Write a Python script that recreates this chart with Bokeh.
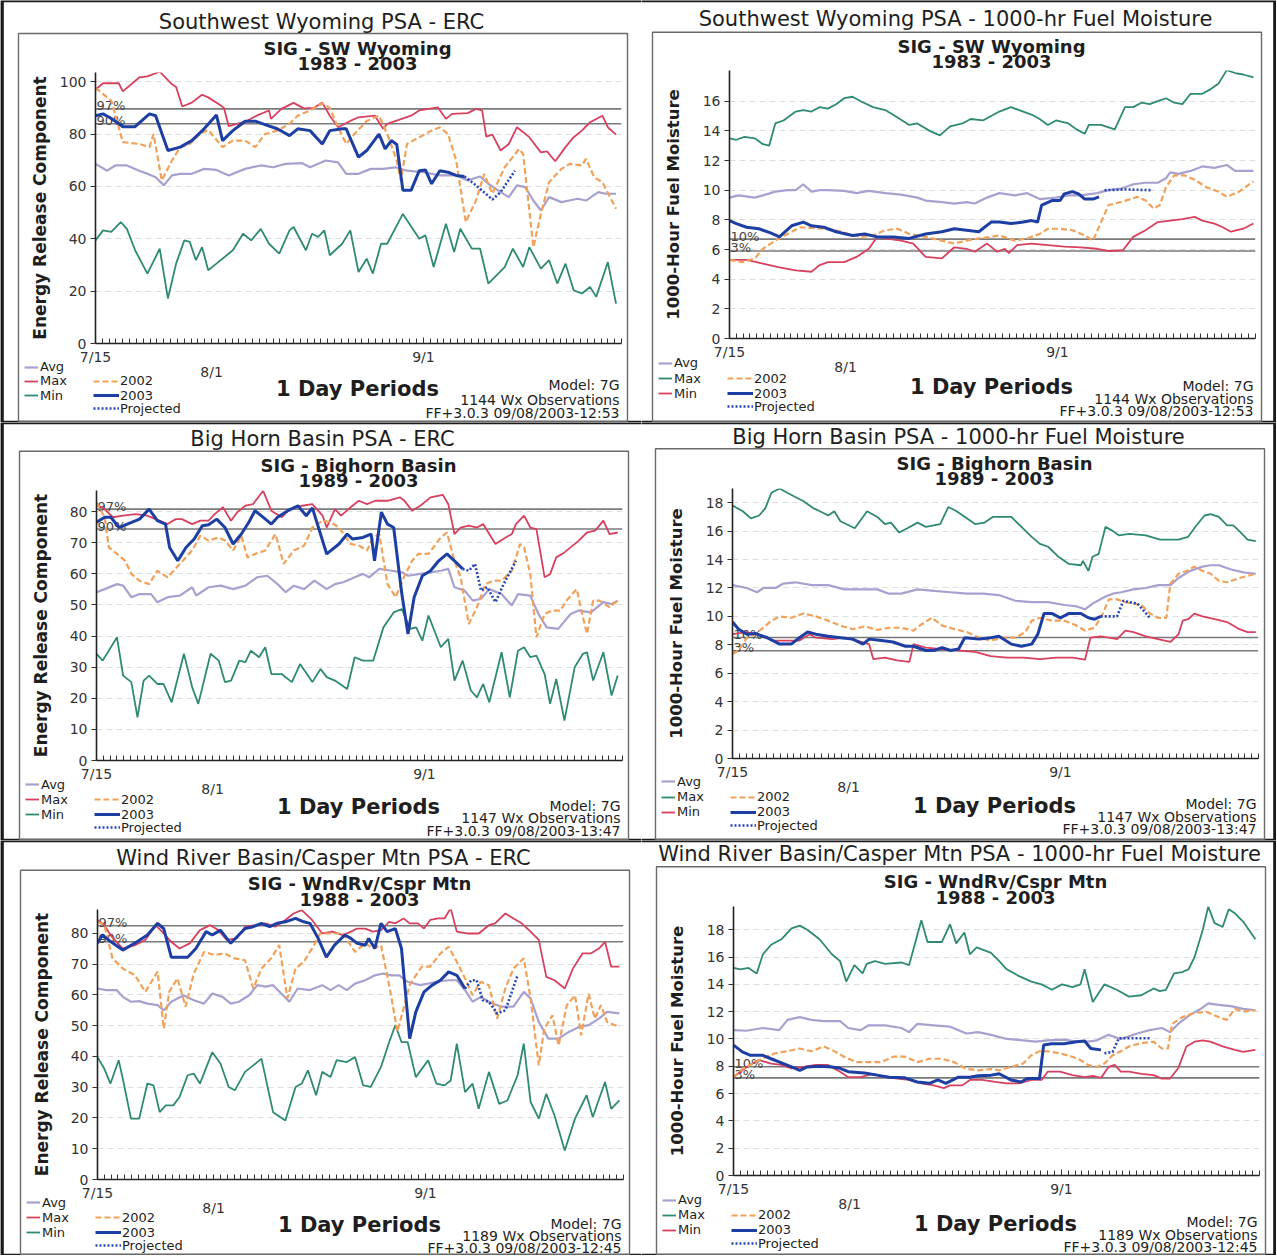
import math
from bokeh.plotting import figure
from bokeh.models import (Range1d, FixedTicker, LinearAxis, Label, BoxAnnotation,
                          Span, Legend, LegendItem, GridBox)
from bokeh.embed import file_html
from bokeh.resources import INLINE

# ---------------------------------------------------------------- data
# x = days after 7/15 ; y = value
X_END = 77
DATE_TICKS = [0, 48]
DATE_LABELS = ["7/15", "9/1"]
MID_TICKS = [17]
MID_LABELS = ["8/1"]
DAY_TICKS = list(range(0, 78))

# ---- Southwest Wyoming ERC
SWW_ERC_AVG = [(0,68.6),(1.7,66),(2.9,68),(4.6,68),(6.4,66),(7.6,64.8),(8.8,63.5),(10,60.4),(11.2,64.2),(12.4,64.8),(14.1,64.8),(15.9,66.7),(17.7,66.3),(19.5,64.2),(21.9,66.7),(24.2,68),(26,67.3),(27.8,68.6),(30.2,68.9),(31.4,67.3),(33.7,69.9),(35.5,69.2),(36.7,64.8),(38.5,64.8),(40.3,66.7),(42.1,66.7),(43.9,67.3),(45.6,66),(48,65.4),(50.4,64.2),(52.8,64.2),(54.5,62.3),(56.3,63.8),(57.5,61),(59.3,57.8),(60.5,55.9),(61.7,60.4),(62.9,59.7),(64.1,54.6),(65.2,50.8),(66.4,55.9),(68.2,54),(70.6,55.3),(71.8,54.6),(73.6,57.8),(74.7,57.2),(76.2,57.2)]
SWW_ERC_MAX = [(0,97),(1.1,99.4),(3.4,99.4),(4.0,96.3),(6.4,101.6),(7.6,102),(9.4,103.8),(11.2,99),(11.8,98),(12.7,90.5),(14.1,92),(15.6,95),(16.5,94),(18.3,91),(18.8,90),(19.5,83),(21.9,84.7),(23.6,87),(25.4,89),(25.7,85.8),(27.2,89.6),(29.0,91.9),(30.5,89.8),(32.0,90),(33.2,92),(34.3,87),(35.5,82.6),(37.3,85),(38.5,86.4),(40.9,87),(42.1,82),(42.7,83.9),(44.4,85.4),(46.2,87),(47.4,89),(50.1,90.2),(51.3,85.8),(52.2,87.7),(54.5,88),(55.7,89.6),(56.6,89),(57.2,79),(58.1,79.8),(59.3,73.7),(60.5,76.2),(61.7,82.6),(63.5,78.8),(65.2,73),(66.1,73.4),(67.3,69.6),(68.8,75),(70.0,78.8),(71.2,81.3),(72.4,84.5),(74.2,87),(75.0,82.6),(76.2,79.8)]
SWW_ERC_MIN = [(0,39.4),(1.1,43.2),(2.3,42.6),(3.7,46.4),(4.6,43.8),(5.8,35.6),(7.6,26.7),(9.4,36.2),(10.6,17.2),(11.8,30.5),(13,39.4),(13.8,38.8),(14.7,31.8),(15.6,36.8),(16.5,28),(17.7,30.5),(20.1,35.6),(21.6,41.9),(22.8,39.4),(24.2,43.8),(25.4,38.1),(26.9,34.3),(28.4,43.2),(29,44.5),(30.8,35.6),(31.7,41.9),(32.6,40.7),(33.5,43.2),(34.3,33.7),(36.1,38.1),(37.3,43.2),(38.5,27.3),(39.7,32.4),(40.6,26.7),(41.8,38.1),(42.7,38.1),(45,49.5),(47.4,40),(48.3,41.3),(49.5,29.2),(51.3,45.7),(52.5,34.9),(53.4,43.8),(55.1,36.2),(56.3,36.2),(57.5,22.9),(59.9,29.2),(61.1,36.2),(62.6,29.2),(63.5,36.8),(65.2,28.6),(66.4,31.8),(67.6,22.9),(68.8,30.5),(70,20.3),(71.2,19.1),(72.4,21.6),(73.3,17.8),(75,31.1),(76.2,15.2)]
SWW_ERC_2002 = [(0,97.6),(1.1,95.3),(2.3,92.8),(3.4,82.6),(4,76.9),(6.4,76.2),(7.9,75),(8.5,80),(9.7,62.3),(11.2,69.9),(12.4,75),(13.8,76.2),(15.3,80),(16.5,81.6),(18.6,75),(20.1,77.5),(21.9,77.5),(23.4,75),(24.8,80),(26.6,81.3),(28.4,83.9),(29.6,87),(31.4,89),(33.2,91.7),(34.3,90),(35.5,82.6),(36.7,76.2),(37.9,80),(39.7,85),(41.5,87),(42.7,80),(44.1,69.9),(44.7,62.3),(45.6,76.2),(47.4,78.8),(49.2,81.3),(50.4,82.6),(51.6,80),(52.8,69.9),(54.2,46.4),(55.7,54.6),(56.9,64.8),(58.1,57.2),(59.9,67.3),(62,74.3),(62.6,72.4),(64.1,36.8),(65.2,49.5),(66.4,61.6),(68.2,66.7),(69.4,68.6),(71.2,68),(71.8,70.5),(73,63.5),(74.2,61.6),(76.2,51.5)]
SWW_ERC_2003 = [(0,87),(1.1,87.7),(2,86.4),(3.4,84),(4,82.8),(5.8,82.8),(7.9,87.7),(8.8,87),(10.6,73.7),(12.4,75),(14.1,77.5),(15.9,82),(17.7,87.3),(18.6,77.5),(20.1,81.3),(21.9,84.9),(23.4,84.9),(24.8,83.6),(26.6,82),(28.4,79.4),(29.6,82),(31.4,81.3),(33.2,76.2),(34.3,81.3),(36.1,82),(36.7,82),(38.5,71.2),(39.7,73.7),(41.5,80),(42.4,74.3),(43.3,77.5),(44.1,76),(45,58.5),(46.2,58.5),(47.4,66),(48.3,66.3),(49.2,61),(50.4,66),(51.6,65.4),(52.8,64.2),(54,63.8)]
SWW_ERC_PROJ = [(54,63.8),(55.7,60.4),(58.1,55),(59.3,57.8),(61.4,66)]
SWW_ERC_PCT = [89.6, 83.9]

# ---- Southwest Wyoming 1000-hr fuel moisture
SWW_FM_AVG = [(0,9.5),(1.3,9.65),(3.7,9.5),(4.9,9.65),(6.7,9.9),(8.5,10),(9.7,10),(10.8,10.4),(12.0,9.9),(13.2,10),(14.4,10),(16.8,9.95),(18.6,9.8),(20.4,9.95),(22.8,9.8),(25.1,9.7),(27.5,9.5),(28.7,9.3),(31.1,9.2),(32.9,9.1),(34.7,9.2),(35.9,9.1),(37.7,9.5),(39.5,9.8),(41.8,9.65),(43.6,9.8),(45.4,9.4),(47.8,9.5),(49.6,9.65),(51.4,9.65),(53.8,9.8),(55.5,10),(57.3,10.1),(59.1,10.4),(60.9,10.5),(62.7,10.5),(63.9,10.8),(64.5,11.2),(65.7,11.1),(67.5,11.3),(69.2,11.6),(71.0,11.5),(72.8,11.7),(74.0,11.3),(75.2,11.3),(76.7,11.3)]
SWW_FM_MAX = [(0,13.5),(1.0,13.4),(2.2,13.6),(3.7,13.5),(4.9,13.1),(5.8,13),(6.7,14.5),(7.9,14.7),(9.7,15.3),(10.8,15.4),(12.0,15.3),(13.2,15.6),(14.4,15.5),(15.6,15.8),(16.8,16.2),(18.0,16.3),(19.2,16),(21.0,15.6),(22.8,15.4),(24.6,14.9),(26.3,14.4),(27.5,14.5),(29.3,14),(30.8,13.7),(32.3,14.3),(34.1,14.5),(35.3,14.8),(37.1,14.7),(38.3,15),(39.5,15.3),(41.2,15.6),(43.0,15.3),(44.2,15.1),(45.4,14.8),(46.6,14.4),(47.8,14.7),(49.6,14.5),(50.8,14.1),(52.0,13.8),(52.6,14.4),(54.4,14.4),(56.4,14.1),(57.9,15.6),(59.1,15.6),(60.3,15.9),(61.5,15.8),(62.7,16),(63.9,16.2),(65.1,15.9),(66.3,15.8),(67.5,16.5),(69.2,16.5),(70.4,16.8),(71.6,17.2),(72.8,18.1),(74.0,17.9),(75.2,17.8),(76.7,17.6)]
SWW_FM_MIN = [(0,5.3),(2.5,5.3),(4.9,5.05),(7.3,4.8),(9.7,4.6),(12.0,4.5),(13.2,4.95),(14.4,5.15),(16.8,5.15),(18.6,5.5),(20.4,6.05),(21.6,6.85),(22.8,6.75),(25.1,6.6),(26.9,6.4),(28.7,5.5),(31.1,5.4),(32.9,6.15),(34.7,6.05),(35.9,5.85),(37.7,6.4),(39.2,5.85),(40.3,6.05),(40.9,5.75),(42.1,6.3),(44.2,6.4),(46.6,6.3),(49.0,6.2),(51.4,6.15),(53.8,6.05),(55.5,5.9),(57.6,5.95),(59.1,6.85),(60.9,7.3),(62.7,7.85),(64.5,7.95),(66.3,8.05),(68.1,8.2),(69.2,7.95),(71.0,7.75),(72.2,7.5),(73.4,7.2),(75.2,7.4),(76.7,7.75)]
SWW_FM_2002 = [(0,5.3),(1.9,5.15),(3.7,5.4),(4.9,6.05),(6.7,6.6),(8.5,7.05),(10.3,7.5),(12.0,7.45),(13.8,7.4),(15.6,7.3),(17.4,7.05),(19.2,6.85),(21.0,6.95),(22.8,7.3),(24.6,7.4),(26.3,7.05),(28.7,6.85),(31.1,6.6),(32.9,6.4),(34.7,6.6),(36.5,6.75),(38.3,6.85),(39.5,6.95),(41.8,6.6),(43.6,6.75),(45.4,7.05),(46.6,7.4),(48.4,7.4),(50.2,7.3),(52.0,6.95),(53.2,6.6),(54.4,7.85),(55.5,9),(57.3,9.2),(59.7,9.55),(60.9,9.3),(62.1,8.75),(63.0,9),(63.9,10.2),(65.1,11),(66.6,11),(68.1,10.7),(69.8,10.2),(71.6,9.9),(72.8,9.55),(74.6,9.9),(76.7,10.6)]
SWW_FM_2003 = [(0,7.95),(1.0,7.75),(2.5,7.5),(4.3,7.4),(6.1,7.1),(7.3,6.85),(9.1,7.6),(10.8,7.85),(12.0,7.6),(13.8,7.5),(15.6,7.2),(18.0,6.95),(19.8,7.05),(21.6,6.85),(24.0,6.85),(26.3,6.75),(28.7,7.05),(31.1,7.2),(32.9,7.4),(34.7,7.3),(36.5,7.2),(38.3,7.85),(39.5,7.85),(41.2,7.75),(43.0,7.85),(44.2,7.95),(45.1,7.85),(45.7,9),(47.2,9.3),(48.4,9.3),(49.0,9.75),(50.2,9.9),(51.1,9.75),(52.0,9.4),(53.2,9.4),(54.1,9.55)]
SWW_FM_PROJ = [(54.9,10.0),(58.0,10.05),(61.8,10.0)]
SWW_FM_PCT = [6.7, 5.9]

# ---- Big Horn Basin ERC
BHB_ERC_AVG = [(0,54.1),(1.2,55.1),(3.0,56.7),(3.9,56.2),(5.1,52.5),(6.3,53.5),(8.0,53.5),(8.9,50.9),(10.4,52.5),(12.2,53),(14.0,55.7),(14.6,53),(16.4,55.7),(18.2,56.2),(20.0,55.1),(21.8,56.2),(23.5,58.9),(25.0,59.4),(26.5,56.7),(27.7,54.1),(28.9,56.2),(30.4,55.1),(31.9,57.8),(33.7,55.1),(34.9,56.7),(36.1,57.3),(37.8,58.9),(39.0,60),(39.9,58.9),(41.4,61.6),(43.2,61),(44.7,60.5),(45.6,59.4),(47.4,60),(48.9,60.5),(50.4,61),(51.5,61.6),(52.4,55.7),(53.9,54.6),(55.1,51.4),(56.3,52),(57.5,55.1),(59.3,53.5),(60.8,49.8),(61.7,53.5),(63.5,53),(64.7,47.1),(65.9,42.8),(67.6,42.3),(69.4,47.1),(70.6,48.2),(72.4,47.6),(74.2,50.9),(75.4,50.3),(76.3,51.4)]
BHB_ERC_MAX = [(0,81.9),(0.9,81.4),(2.4,78.2),(3.9,78.7),(5.7,79.2),(7.4,78.7),(9.2,77.1),(10.4,76),(11.6,77.6),(12.5,77.6),(14.0,76),(15.2,77.1),(16.4,77.1),(17.3,79.2),(18.5,81.4),(19.7,77.1),(20.6,79.8),(21.8,81.9),(22.9,82.4),(24.4,86.7),(25.6,80.3),(27.1,78.2),(28.3,80.8),(30.1,81.9),(31.6,82.4),(33.1,78.7),(33.7,74.9),(34.9,80.8),(35.8,78.7),(37.2,81.4),(38.4,83.5),(39.6,82.4),(40.8,83.5),(42.6,83.5),(44.4,84.6),(45.0,83.7),(46.2,80.3),(47.4,81.9),(48.9,84.6),(50.7,85.4),(51.5,82.4),(52.4,72.8),(53.3,74.9),(54.5,75.5),(55.7,74.9),(56.6,76),(57.5,72.8),(58.4,69.6),(59.9,71.7),(60.8,72.8),(61.4,76),(62.6,78.7),(63.5,74.9),(64.4,74.4),(65.6,58.9),(66.4,59.9),(67.3,65.3),(68.5,66.9),(69.4,68.5),(70.6,70.7),(71.8,73.3),(73.0,73.9),(74.2,77.1),(75.1,72.8),(76.3,73.3)]
BHB_ERC_MIN = [(0,34.3),(0.9,32.1),(3.0,39.6),(3.9,27.3),(5.1,25.2),(6.0,13.9),(6.9,25.7),(7.7,27.3),(8.9,24.6),(9.8,24.6),(11.0,18.7),(12.8,34.3),(14.0,23.6),(14.9,18.2),(16.7,34.3),(17.9,32.1),(18.8,25.2),(19.7,25.7),(20.9,32.1),(21.8,31.6),(22.6,35.3),(23.8,33.2),(24.7,36.4),(25.6,27.8),(27.1,27.8),(28.6,25.2),(29.8,31),(31.6,25.2),(32.8,29.4),(33.7,26.8),(34.9,25.7),(36.7,23),(37.8,33.2),(39.0,32.1),(40.5,32.1),(42.0,42.8),(43.5,47.6),(44.7,48.7),(45.9,42.3),(46.8,42.8),(47.7,38.5),(48.6,46.6),(50.4,36.4),(51.5,39.1),(52.4,25.7),(53.6,32.1),(54.8,22.5),(55.7,20.3),(56.6,24.6),(57.5,18.7),(59.3,34.8),(60.5,20.3),(61.7,35.3),(62.6,36.4),(63.5,33.2),(64.4,33.7),(65.6,27.8),(66.4,18.2),(67.3,26.2),(68.5,12.8),(70.0,30),(71.2,34.3),(71.8,34.8),(72.7,25.7),(74.2,34.8),(75.4,20.9),(76.3,27.3)]
BHB_ERC_2002 = [(0,83),(1.2,78.2),(1.8,68.5),(3.0,66.4),(4.2,64.2),(5.1,60),(6.3,57.8),(7.7,56.7),(8.9,61),(10.4,58.9),(12.2,63.2),(14.0,67.5),(15.2,72.3),(16.4,70.7),(17.9,71.7),(18.8,70.7),(20.0,67.5),(21.2,72.3),(22.1,65.3),(23.2,66.4),(24.7,67.5),(26.2,72.8),(27.4,63.2),(28.9,67.5),(30.4,69.1),(31.6,74.9),(33.1,77.1),(34.3,76.6),(35.5,74.9),(37.2,69.6),(38.4,69.1),(39.6,67.5),(40.5,71.7),(41.4,72.8),(42.6,56.7),(43.8,52.5),(45.0,58.9),(46.2,64.2),(47.1,66.4),(48.6,66.4),(50.4,71.7),(51.3,73.3),(52.4,64.2),(53.3,58.9),(54.5,43.9),(55.7,49.3),(56.9,56.7),(58.1,57.8),(59.3,57.8),(60.8,61),(62.0,69.6),(62.6,68.5),(63.5,60),(64.4,39.6),(65.6,47.1),(66.7,48.2),(67.9,48.2),(68.8,51.4),(70.3,55.1),(71.2,46.1),(71.8,40.7),(72.7,51.4),(73.6,51.4),(75.1,49.3),(76.3,51.4)]
BHB_ERC_2003 = [(0,76.6),(1.2,78.2),(2.1,78.2),(3.3,74.9),(4.5,76),(6.3,77.6),(7.7,80.8),(8.9,77.1),(10.1,76),(10.7,68.5),(11.9,64.2),(13.1,68.5),(14.3,71.2),(15.5,75.5),(16.4,75.8),(17.6,77.6),(18.8,74.9),(20.0,69.6),(21.2,72.8),(22.3,76.6),(23.2,80.3),(24.1,78.7),(25.6,76),(26.5,78.2),(28.0,80.3),(29.5,81.9),(30.7,78.7),(31.6,81.2),(33.7,66.4),(35.5,69.6),(36.7,72.8),(37.5,71.2),(39.0,71.7),(40.2,72.8),(40.7,64.2),(41.7,79.8),(42.6,76),(43.5,74.9),(44.7,53.5),(45.6,40.7),(46.5,52.5),(47.7,59.4),(48.9,61),(50.1,64.2),(51.3,66.4),(52.4,64.2),(53.6,61.6)]
BHB_ERC_PROJ = [(53.6,61.6),(54.5,61),(55.4,63.2),(56.3,54.6),(57.2,55.7),(58.4,50.9),(59.6,56.7),(61.4,64.2)]
BHB_ERC_PCT = [80.8, 74.4]

# ---- Big Horn Basin 1000-hr fuel moisture
BHB_FM_AVG = [(0,12.2),(2.1,12.0),(3.6,11.7),(4.5,12),(6.3,12),(7.4,12.3),(9.2,12.4),(11.6,12.2),(14.0,12.2),(16.4,11.9),(18.8,11.9),(21.2,11.9),(22.9,11.6),(24.7,11.6),(27.1,11.9),(29.5,11.8),(31.9,11.7),(34.3,11.6),(36.7,11.6),(39.0,11.5),(41.4,11.1),(43.8,11),(46.2,11),(48.6,10.8),(50.4,10.7),(51.6,10.5),(52.7,10.9),(54.6,11.4),(55.7,11.6),(56.9,11.7),(58.7,11.9),(60.5,12),(62.3,12.2),(64.1,12.2),(65.3,12.7),(67.0,13.2),(68.8,13.5),(70.0,13.6),(71.2,13.6),(73.0,13.3),(74.8,13.1),(76.6,13)]
BHB_FM_MAX = [(0,17.8),(1.5,17.4),(2.7,16.9),(3.9,17.1),(4.8,17.6),(5.7,18.7),(6.9,19),(8.0,18.7),(9.2,18.4),(10.4,18.1),(11.9,17.6),(12.8,17.4),(14.0,17.1),(14.9,17.4),(15.8,16.7),(17.9,16.2),(19.7,17.4),(21.2,17),(22.3,16.5),(23.2,16.6),(24.4,15.9),(25.6,16.2),(27.1,16.6),(28.3,16.3),(30.4,16.5),(31.6,17.7),(32.8,17.4),(34.3,16.9),(35.5,16.5),(36.9,16.6),(38.1,17),(40.8,17),(42.3,16.3),(43.8,15.6),(45.0,15.1),(46.2,14.9),(47.7,14.2),(49.2,13.7),(51.0,13.6),(51.3,13.9),(52.1,13.2),(52.7,14.2),(53.6,14.4),(54.6,16.3),(55.7,16),(56.6,15.7),(58.1,15.8),(60.5,15.7),(62.6,15.4),(65.3,15.4),(66.7,15.6),(67.9,16.4),(69.1,17.1),(70.0,17.2),(71.2,17),(72.4,16.4),(73.3,16.4),(74.2,16),(75.4,15.4),(76.6,15.3)]
BHB_FM_MIN = [(0,8.75),(2.1,8.9),(4.5,8.6),(5.7,8.3),(8.0,8.3),(9.8,8.3),(11.3,8.75),(12.2,8.5),(14.6,8.4),(16.4,8.5),(18.2,8.3),(20.0,8.05),(20.6,7),(22.3,7.1),(24.1,6.9),(25.9,6.8),(26.5,8.05),(28.3,7.8),(30.7,7.7),(33.1,7.6),(35.5,7.5),(37.8,7.2),(40.2,7.1),(42.6,7.1),(45.0,7),(47.4,7.1),(49.8,7.1),(51.6,6.95),(52.4,8.5),(53.9,8.6),(55.1,8.5),(56.3,8.4),(57.5,9),(58.7,8.9),(60.5,8.6),(62.3,8.4),(64.1,8.2),(65.3,8.75),(65.9,9.7),(66.7,9.8),(67.6,10.2),(68.8,10),(70.6,9.8),(72.4,9.6),(74.2,9.1),(75.4,8.9),(76.6,8.9)]
BHB_FM_2002 = [(0,7.35),(0.9,7.6),(2.1,8.5),(3.3,8.75),(4.5,9.2),(5.7,9.7),(6.9,10),(8.6,9.9),(10.4,10.2),(12.2,10),(14.0,9.7),(15.8,9.35),(17.6,9.1),(19.4,9.3),(21.2,9.05),(22.9,9.2),(24.7,9.2),(26.5,9),(27.7,9.45),(29.2,9.9),(30.7,9.35),(32.5,9.1),(34.3,8.9),(36.1,8.5),(37.8,8.3),(39.6,8.5),(41.4,8.5),(42.9,8.9),(43.8,9.7),(45.0,9.9),(46.8,9.7),(48.6,9.7),(50.4,9.35),(51.6,9),(53.0,9.2),(54.2,10.2),(55.1,11.2),(56.3,11.2),(57.5,11),(58.7,10.9),(59.9,10.8),(61.1,10.2),(62.3,9.9),(63.5,9.9),(64.1,12.3),(65.3,13),(66.5,13.2),(67.6,13.5),(68.8,13.2),(70.0,13),(71.2,12.5),(72.4,12.4),(74.2,12.7),(76.6,13)]
BHB_FM_2003 = [(0,9.6),(0.9,9.1),(2.1,8.75),(3.3,8.8),(5.1,8.5),(6.9,8.05),(8.6,8.05),(9.8,8.5),(11.0,8.9),(12.2,8.75),(14.0,8.6),(15.8,8.5),(17.6,8.4),(19.1,8.05),(20.0,8.4),(21.8,8.3),(23.5,8.2),(25.3,7.9),(26.5,7.9),(28.3,7.6),(29.5,7.6),(30.7,7.8),(31.9,7.6),(33.1,7.7),(34.0,8.5),(36.1,8.4),(37.8,8.5),(39.0,8.6),(40.8,8.05),(42.3,7.9),(43.8,8.05),(44.7,8.75),(45.6,10.2),(46.8,10.2),(48.0,9.9),(49.2,10.2),(51.0,10.2),(52.1,9.9),(53.0,9.8),(53.9,10)]
BHB_FM_PROJ = [(53.9,10),(56.3,10),(57.2,11.1),(58.1,11),(59.3,10.9),(61.1,9.9)]
BHB_FM_PCT = [8.52, 7.58]

# ---- Wind River Basin / Casper Mtn ERC
WRC_ERC_AVG = [(0,62.1),(1.3,61.6),(2.8,61.6),(3.7,59.4),(4.9,57.8),(6.1,58),(7.3,57.2),(8.8,56.7),(9.7,55),(10.8,57.8),(12.6,59.9),(14.1,58.3),(15.6,57.2),(16.8,60.5),(18.3,59.4),(19.5,57.2),(20.7,57.8),(22.2,59.9),(23.4,63.2),(24.6,62.7),(25.7,63.2),(26.9,60.5),(28.1,57.8),(29.3,62.1),(31.1,61.6),(32.9,63.2),(34.1,61.6),(35.3,63.2),(36.5,61.6),(37.7,63.7),(39.2,64.8),(40.6,66.4),(41.8,67),(43.0,66.4),(44.2,66.4),(45.4,64.3),(47.2,63.2),(48.4,63.7),(49.6,64.3),(51.4,64.8),(52.6,64.8),(53.8,61.6),(54.9,57.8),(56.1,59.4),(57.3,57.8),(59.1,56.2),(60.9,56.2),(62.4,61),(63.4,58.9),(64.6,51.2),(66.0,45.8),(67.5,45.8),(69.0,48),(70.5,49.6),(71.9,50.2),(73.4,52.3),(74.6,54.5),(76.4,54)]
WRC_ERC_MAX = [(0,84.4),(1.0,82.7),(1.9,79.5),(3.7,75.1),(5.5,76.2),(7.0,77.9),(8.5,82.7),(9.7,80),(10.8,77.3),(12.0,75.1),(13.5,76.8),(15.0,81.1),(16.5,82.7),(17.7,81.1),(18.9,77.9),(20.4,78.4),(21.6,82.2),(23.1,82.7),(24.6,83.3),(26.0,82.2),(27.5,84.4),(28.7,86.5),(29.9,87.6),(31.4,84.4),(32.9,80),(34.4,80.6),(35.9,79.5),(37.1,80.6),(38.0,81.6),(39.2,81.6),(40.3,80.6),(41.5,81.1),(42.7,83.8),(43.6,83.3),(44.8,84.9),(45.7,83.3),(46.9,83.3),(47.8,81.6),(48.7,84.4),(49.9,84.9),(50.8,84.9),(51.7,88.2),(52.6,80.6),(54.1,80),(55.8,80),(57.3,82.7),(58.2,83.3),(59.7,86.5),(60.9,84.9),(62.1,83.3),(63.4,80.6),(64.6,77.9),(65.7,65.9),(66.9,64.8),(68.4,62.1),(69.6,68.6),(71.0,73.5),(72.2,73.5),(73.4,75.1),(74.3,77.3),(75.2,69.2),(76.4,69.2)]
WRC_ERC_MIN = [(0,39.8),(1.0,36),(1.9,31.2),(3.1,38.8),(3.7,32.8),(4.9,19.8),(6.1,19.8),(7.3,31.2),(8.2,30.6),(9.1,21.9),(10.0,24.1),(11.1,24.1),(12.0,26.8),(13.2,33.9),(14.1,34.4),(15.0,31.2),(16.8,41.4),(18.0,37.7),(19.2,30.1),(20.1,29),(21.6,35),(22.8,37.1),(24.0,39.3),(25.7,21.9),(27.5,19.2),(29.0,30.1),(29.9,31.2),(30.8,35.5),(32.0,27.4),(32.9,35),(34.1,33.3),(35.0,38.8),(36.5,38.2),(37.7,39.8),(38.9,30.6),(40.0,30.1),(41.5,36.6),(42.7,44.7),(43.6,50.2),(44.5,44.7),(45.4,44.7),(46.6,33.3),(48.4,38.8),(49.6,31.2),(50.8,30.6),(51.7,32.2),(52.6,44.2),(53.8,28.4),(54.9,31.2),(55.8,23),(57.3,35),(58.8,24.6),(60.0,25.7),(61.5,33.9),(62.4,44.2),(63.4,25.2),(64.6,19.8),(65.7,27.9),(66.9,20.8),(68.4,9.4),(69.9,19.8),(71.6,27.4),(72.5,20.3),(74.3,31.7),(75.2,23),(76.4,25.7)]
WRC_ERC_2002 = [(0,83.8),(1.0,82.7),(2.2,71.9),(3.7,68.6),(5.5,66.4),(7.0,61),(8.8,67.6),(9.7,49.1),(10.5,61),(11.7,65.4),(12.9,56.2),(14.1,67),(15.6,74),(17.1,73),(18.6,73.5),(20.1,71.9),(21.6,71.3),(22.8,62.1),(24.0,68.6),(25.4,71.9),(26.6,76.2),(27.8,58.9),(29.0,68.6),(30.2,70.8),(31.4,75.1),(32.6,80),(34.1,80),(35.9,80),(37.7,74),(39.2,76.8),(40.3,75.1),(41.5,76.2),(42.7,63.2),(43.9,48.1),(44.8,55.6),(45.7,63.2),(46.6,66.4),(47.5,69.2),(48.7,69.2),(50.2,73.5),(51.4,75.7),(52.6,70.8),(53.8,65.4),(54.9,59.9),(56.1,64.3),(57.3,63.2),(58.5,52.3),(59.7,62.1),(60.9,68.6),(62.4,71.9),(63.4,58.9),(64.6,37.1),(65.4,49.1),(66.6,53.4),(67.5,43.6),(68.7,56.7),(69.9,59.9),(70.8,46.9),(71.9,60.4),(72.8,52.3),(73.7,56.7),(74.6,51.2),(76.4,49.6)]
WRC_ERC_2003 = [(0,76.8),(0.7,79.5),(1.6,77.9),(3.7,74.6),(5.8,77.3),(7.3,79.5),(8.8,83.3),(9.7,81.6),(10.8,72.3),(13.2,72.3),(14.4,75.1),(15.9,80.6),(16.8,79.5),(18.0,81.1),(19.5,76.8),(21.6,81.6),(22.8,82.2),(24.0,83.3),(25.2,82.2),(26.3,83.3),(27.5,83.8),(29.0,84.9),(30.2,83.8),(31.1,83.3),(32.3,78.4),(33.5,72.3),(34.7,76.2),(36.2,79.5),(37.1,78.4),(38.0,76.8),(39.2,76.2),(39.7,78.4),(40.6,75.1),(41.5,83.3),(42.4,80.6),(43.6,81.6),(44.5,75.1),(45.7,45.8),(46.6,54.5),(47.8,61),(49.0,63.2),(50.2,64.8),(51.4,67.5),(52.6,66.4),(53.8,62.1)]
WRC_ERC_PROJ = [(53.8,62.1),(54.7,64.8),(55.5,64.8),(56.4,58.3),(57.3,57.8),(58.5,54),(59.7,55),(61.5,66.4)]
WRC_ERC_PCT = [82.5, 77.3]

# ---- Wind River Basin / Casper Mtn 1000-hr fuel moisture
WRC_FM_AVG = [(0,10.65),(1.9,10.6),(4.3,10.8),(6.7,10.65),(7.9,11.4),(9.7,11.6),(11.4,11.4),(13.2,11.3),(15.6,11.3),(16.8,10.8),(18.6,10.65),(19.8,11),(22.2,11),(24.6,10.8),(25.7,10.5),(26.9,11.1),(29.3,11),(31.7,10.9),(34.1,10.4),(35.8,10.5),(37.7,10.3),(40.0,10),(42.4,9.9),(44.2,9.8),(46.0,9.9),(48.4,9.95),(50.2,9.8),(51.9,9.8),(53.2,9.9),(54.9,10.3),(56.7,10),(57.9,10.2),(59.1,10.4),(60.9,10.65),(62.7,10.8),(63.9,10.5),(65.1,11.1),(66.9,11.8),(68.4,12.2),(69.5,12.6),(71.0,12.5),(72.8,12.4),(74.6,12.2),(76.4,12.1)]
WRC_FM_MAX = [(0,15.2),(1.0,15.1),(2.2,15.2),(3.4,14.8),(4.3,16.2),(5.5,16.9),(7.0,17.3),(8.5,18.1),(9.7,18.3),(10.8,18),(12.6,17.3),(14.4,16.2),(15.6,15.7),(16.5,14.2),(17.7,15.4),(18.9,14.8),(19.5,15.5),(20.7,15.7),(22.2,15.5),(24.6,15.6),(25.7,15.4),(27.5,18.7),(28.4,17.1),(30.5,17.1),(31.7,18.4),(32.6,17),(33.8,17.8),(34.6,16.2),(35.6,16.7),(37.7,16.3),(38.9,15.7),(40.0,15.1),(41.8,14.6),(43.6,14.2),(45.1,14),(46.6,13.6),(48.1,14),(49.6,13.8),(50.8,14),(51.4,15.1),(52.6,12.7),(54.3,14),(56.1,13.6),(57.9,13.1),(59.7,13.2),(61.5,13.7),(62.4,13.5),(63.3,13.6),(64.5,14.8),(65.7,14.9),(66.6,15.1),(67.5,16),(68.7,18),(69.5,19.7),(70.4,18.5),(71.6,18.2),(72.5,19.5),(73.4,19.2),(74.6,18.6),(76.4,17.3)]
WRC_FM_MIN = [(0,7.2),(1.9,7.95),(3.7,8.45),(5.5,8.2),(7.0,8.1),(8.5,7.85),(10.3,7.95),(12.0,8.1),(13.8,8.1),(15.6,7.6),(16.8,7.2),(18.6,7.2),(20.4,7.45),(22.2,7.2),(24.0,7.1),(25.7,7),(27.5,6.75),(29.3,6.6),(30.8,6.4),(31.7,6.6),(33.5,6.6),(34.6,7),(36.4,7),(38.3,6.85),(40.0,6.75),(41.8,6.75),(43.6,7),(45.1,7),(46.0,7.6),(47.8,7.6),(49.6,7.35),(51.4,7.2),(52.6,7.3),(53.8,7.15),(54.9,7.95),(55.8,8.1),(56.7,7.6),(57.9,7.6),(59.7,7.45),(61.5,7.35),(62.7,7.1),(63.9,7.1),(65.1,7.85),(66.3,9.45),(67.5,9.8),(68.7,9.9),(69.8,9.8),(71.6,9.45),(73.4,9.2),(74.6,9.05),(76.4,9.2)]
WRC_FM_2002 = [(0,7.2),(1.3,7.8),(2.5,8.1),(3.7,8.45),(4.9,8.7),(6.1,8.95),(7.9,9.1),(9.7,9.3),(11.4,9.1),(13.2,9.45),(14.4,9.2),(16.2,8.7),(18.0,8.3),(19.8,8.3),(21.6,8.3),(23.4,8.7),(25.1,8.7),(26.9,8.3),(28.7,8.55),(30.5,8.55),(32.3,8.3),(34.1,7.8),(35.8,7.7),(37.7,7.8),(38.9,7.7),(40.6,7.95),(42.4,8.2),(43.6,8.8),(44.8,9.1),(46.0,9.1),(47.8,8.95),(49.6,8.7),(50.8,8.45),(51.9,8.1),(53.2,7.95),(54.3,8.2),(55.5,8.8),(56.7,9.1),(57.9,9.45),(59.7,9.7),(61.5,9.8),(62.7,9.3),(63.6,9.3),(64.2,11.1),(65.7,11.6),(67.5,11.9),(69.2,12),(71.0,11.6),(72.2,11.4),(73.4,12.2),(74.6,12),(76.4,12.1)]
WRC_FM_2003 = [(0,9.55),(1.3,9.05),(2.5,8.8),(4.3,8.8),(5.5,8.55),(7.3,8.2),(8.5,7.95),(9.7,7.7),(10.8,7.95),(12.6,8),(14.4,7.95),(15.6,7.85),(16.8,7.6),(19.2,7.5),(21.0,7.35),(22.8,7.2),(25.1,7.15),(26.9,6.85),(28.7,6.75),(29.9,7),(31.1,6.75),(32.9,7.2),(34.6,7.2),(35.8,7.3),(37.7,7.35),(38.9,7.45),(40.6,7),(42.1,6.85),(43.0,7.1),(44.8,7.1),(45.4,9.55),(46.6,9.65),(48.4,9.65),(50.2,9.8),(51.4,9.85),(52.3,9.3),(53.8,9.2)]
WRC_FM_PROJ = [(54.3,8.95),(55.5,9.05),(56.4,10.05),(61.2,10.05)]
WRC_FM_PCT = [7.96, 7.15]

ERC_PCT_LABELS = ["97%", "90%"]
FM_PCT_LABELS = ["10%", "3%"]
ERC_TICKS_SW = [0, 20, 40, 60, 80, 100]
ERC_TICKS_10 = [0, 10, 20, 30, 40, 50, 60, 70, 80]
FM_TICKS_16 = [0, 2, 4, 6, 8, 10, 12, 14, 16]
FM_TICKS_18 = [0, 2, 4, 6, 8, 10, 12, 14, 16, 18]
LEGEND_NAMES = ["Avg", "Max", "Min", "2002", "2003", "Projected"]
SERIES_KEYS = ["avg", "max", "min", "y2002", "y2003", "proj"]

# ---------------------------------------------------------------- style
FONT = "DejaVu Sans"
C_AVG = "#a8a1cf"
C_RED = "#d8405f"
C_GREEN = "#2e8a72"
C_2002 = "#f2a15a"
C_2003 = "#1d3ea3"
C_PROJ = "#2747b8"
C_TXT = "#1e1e1e"
FW = 526

# geometry per panel: canvas W, H, frame left, frame top, frame height
GEO = [[(641, 422, 95, 72, 271), (635, 422, 88, 70, 268)],
       [(641, 418, 96, 68, 270), (635, 418, 91, 66, 270)],
       [(641, 415, 97, 69, 270), (635, 415, 92, 66, 269)]]
# text rows (canvas y): title, chart1, chart2, legend rows x4, days, footer x3, inner box top
TY = [[(21.7, 47.7, 62.7, 366.7, 380.7, 395, 408, 388, 384, 399.5, 412, 33),
       (18.3, 45.7, 61, 362.7, 378, 393, 406, 386.7, 385, 398, 410, 31.7)],
      [(16.3, 43, 58, 362, 377, 392, 405, 384.7, 383, 395.7, 408, 28.7),
       (14, 40.7, 56.3, 359, 374.7, 389.5, 403, 383, 381, 394.7, 406.3, 26.3)],
      [(17.3, 43, 58.7, 362, 377, 392, 405, 384.7, 383, 395.7, 407.3, 29.7),
       (13, 40.7, 56.7, 359.7, 374.7, 389.5, 403, 383, 381.3, 394.7, 406.3, 26.3)]]


def unzip(pts):
    return [a for a, b in pts], [b for a, b in pts]


def series_styles(fm):
    return [dict(line_color=C_AVG, line_width=2.2),
            dict(line_color=C_GREEN if fm else C_RED, line_width=1.8),
            dict(line_color=C_RED if fm else C_GREEN, line_width=1.8),
            dict(line_color=C_2002, line_width=2.2, line_dash="6 3"),
            dict(line_color=C_2003, line_width=3),
            dict(line_color=C_PROJ, line_width=2.6, line_dash="2 2")]


def make_chart(cfg, geo):
    W, H, L, T, FH = geo
    p = figure(width=W, height=H, x_range=Range1d(0, X_END), y_range=Range1d(0, cfg["ymax"]),
               output_backend="svg", toolbar_location=None, title=None,
               min_border_left=L, min_border_right=W - L - FW, min_border_top=T,
               min_border_bottom=H - T - FH)
    p.frame_align = False
    p.outline_line_color = None
    p.background_fill_alpha = 0
    p.border_fill_alpha = 0

    xa = p.xaxis[0]
    xa.ticker = FixedTicker(ticks=DATE_TICKS, minor_ticks=DAY_TICKS)
    xa.major_label_overrides = {t: s for t, s in zip(DATE_TICKS, DATE_LABELS)}
    xa.major_tick_in, xa.major_tick_out = 6, 0
    xa.minor_tick_in, xa.minor_tick_out = 5, 0
    xa.major_label_standoff = 5
    ax2 = LinearAxis(ticker=FixedTicker(ticks=MID_TICKS),
                     major_label_overrides={t: s for t, s in zip(MID_TICKS, MID_LABELS)},
                     axis_line_color=None, major_tick_line_color=None, minor_tick_line_color=None,
                     major_label_standoff=-10)
    p.add_layout(ax2, "below")
    ya = p.yaxis[0]
    ya.ticker = FixedTicker(ticks=cfg["yticks"])
    ya.major_tick_in, ya.major_tick_out = 0, 5
    ya.minor_tick_line_color = None
    ya.major_label_standoff = 4
    for ax in (xa, ax2, ya):
        ax.major_label_text_font = FONT
        ax.major_label_text_font_size = "14px"
        ax.major_label_text_color = "#333333"
    for ax in (xa, ya):
        ax.axis_line_width = 1.6
        ax.axis_line_color = "#222222"
        ax.major_tick_line_color = "#333333"
    xa.minor_tick_line_color = "#333333"
    p.xgrid.visible = False
    p.ygrid.ticker = FixedTicker(ticks=cfg["yticks"])
    p.ygrid.grid_line_color = "#dedede"
    p.ygrid.grid_line_dash = "6 4"

    for v, lab in zip(cfg["pct"], cfg["pct_labels"]):
        p.add_layout(Span(location=v, dimension="width", line_color="#7a7a7a", line_width=1.6,
                          level="underlay"))
        p.add_layout(Label(x=0, y=v, text=lab, x_offset=1, y_offset=3, text_baseline="middle",
                           text_font=FONT, text_font_size="13px", text_color="#444444",
                           level="underlay"))

    for key, st in zip(SERIES_KEYS, series_styles(cfg["fm"])):
        x, y = unzip(cfg["series"][key])
        p.line(x, y, **st)
    return p


def make_deco(cfg, geo, ty, col):
    W, H, L, T, FH = geo
    d = figure(width=W, height=H, x_range=Range1d(0, W), y_range=Range1d(H, 0),
               x_axis_type=None, y_axis_type=None, output_backend="svg",
               toolbar_location=None, title=None, min_border=0)
    d.frame_align = False
    d.outline_line_color = None
    d.background_fill_color = "white"
    d.border_fill_color = "white"
    d.xgrid.visible = False
    d.ygrid.visible = False
    # range that keeps the legend's source renderers out of view
    d.extra_x_ranges = {"legend": Range1d(-10000, -9000)}

    # outer slide frame (row frames span both columns) and inner chart box
    left = 1.5 if col == 0 else -10
    right = W + 10 if col == 0 else W - 1.5
    d.add_layout(BoxAnnotation(left=left, right=right, top=0, bottom=H, fill_alpha=0,
                               line_color="#1a1a1a", line_alpha=1, line_width=3.6))
    d.add_layout(BoxAnnotation(left=L - 77, right=L + 532, top=ty[11], bottom=H - 1, fill_alpha=0,
                               line_color="#6a6a6a", line_alpha=1, line_width=1.4))

    def txt(x, y, text, size, style="normal", align="center", angle=0.0):
        d.add_layout(Label(x=x, y=y, text=text, text_align=align, text_baseline="middle",
                           angle=angle, text_font=FONT, text_font_size=size,
                           text_font_style=style, text_color=C_TXT))

    txt(L + 226, ty[0], cfg["title"], "21px")
    txt(L + 262, ty[1], cfg["chart"], "18px", "bold")
    txt(L + 262, ty[2], cfg["years"], "18px", "bold")
    txt(L - 56, T + FH / 2, cfg["ylabel"], cfg["ylabel_size"], "bold", angle=math.pi / 2)
    txt(L + 262, ty[7], "1 Day Periods", "21px", "bold")
    txt(L + 524, ty[8], "Model: 7G", "14px", align="right")
    txt(L + 524, ty[9], cfg["obs"], "14px", align="right")
    txt(L + 524, ty[10], cfg["stamp"], "14px", align="right")

    # legend: one-entry legends so each row sits exactly where the original puts it
    places = [(-71, ty[3], 14, 2), (-71, ty[4], 14, 2), (-71, ty[5], 14, 2),
              (-2, ty[4], 26, 1), (-2, ty[5], 26, 1), (-2, ty[6], 26, 1)]
    for name, key, st, (lx, cy, gw, so) in zip(LEGEND_NAMES, SERIES_KEYS,
                                               series_styles(cfg["fm"]), places):
        x, y = unzip(cfg["series"][key])
        r = d.line(x, y, x_range_name="legend", **st)
        lg = Legend(items=[LegendItem(label=name, renderers=[r])],
                    location=(L + lx, H - cy - 8),
                    glyph_width=gw, glyph_height=16, label_height=16, label_standoff=so,
                    padding=0, margin=0, spacing=0, border_line_alpha=0,
                    background_fill_alpha=0, label_text_font=FONT,
                    label_text_font_size="13px", label_text_color=C_TXT)
        d.add_layout(lg, "center")
    return d


ERC_LABEL = "Energy Release Component"
FM_LABEL = "1000-Hour Fuel Moisture"

panels = [
    [dict(title="Southwest Wyoming PSA - ERC", chart="SIG - SW Wyoming", years="1983 - 2003",
          ylabel=ERC_LABEL, ylabel_size="17px", ymax=103.5, yticks=ERC_TICKS_SW, pct=SWW_ERC_PCT,
          pct_labels=ERC_PCT_LABELS, fm=False, obs="1144 Wx Observations",
          stamp="FF+3.0.3 09/08/2003-12:53",
          series=dict(avg=SWW_ERC_AVG, max=SWW_ERC_MAX, min=SWW_ERC_MIN, y2002=SWW_ERC_2002,
                      y2003=SWW_ERC_2003, proj=SWW_ERC_PROJ)),
     dict(title="Southwest Wyoming PSA - 1000-hr Fuel Moisture", chart="SIG - SW Wyoming",
          years="1983 - 2003", ylabel=FM_LABEL, ylabel_size="16.5px", ymax=18.07, yticks=FM_TICKS_16,
          pct=SWW_FM_PCT, pct_labels=FM_PCT_LABELS, fm=True, obs="1144 Wx Observations",
          stamp="FF+3.0.3 09/08/2003-12:53",
          series=dict(avg=SWW_FM_AVG, max=SWW_FM_MAX, min=SWW_FM_MIN, y2002=SWW_FM_2002,
                      y2003=SWW_FM_2003, proj=SWW_FM_PROJ))],
    [dict(title="Big Horn Basin PSA - ERC", chart="SIG - Bighorn Basin", years="1989 - 2003",
          ylabel=ERC_LABEL, ylabel_size="17px", ymax=86.8, yticks=ERC_TICKS_10, pct=BHB_ERC_PCT,
          pct_labels=ERC_PCT_LABELS, fm=False, obs="1147 Wx Observations",
          stamp="FF+3.0.3 09/08/2003-13:47",
          series=dict(avg=BHB_ERC_AVG, max=BHB_ERC_MAX, min=BHB_ERC_MIN, y2002=BHB_ERC_2002,
                      y2003=BHB_ERC_2003, proj=BHB_ERC_PROJ)),
     dict(title="Big Horn Basin PSA - 1000-hr Fuel Moisture", chart="SIG - Bighorn Basin",
          years="1989 - 2003", ylabel=FM_LABEL, ylabel_size="16.5px", ymax=19.0, yticks=FM_TICKS_18,
          pct=BHB_FM_PCT, pct_labels=FM_PCT_LABELS, fm=True, obs="1147 Wx Observations",
          stamp="FF+3.0.3 09/08/2003-13:47",
          series=dict(avg=BHB_FM_AVG, max=BHB_FM_MAX, min=BHB_FM_MIN, y2002=BHB_FM_2002,
                      y2003=BHB_FM_2003, proj=BHB_FM_PROJ))],
    [dict(title="Wind River Basin/Casper Mtn PSA - ERC", chart="SIG - WndRv/Cspr Mtn",
          years="1988 - 2003", ylabel=ERC_LABEL, ylabel_size="17px", ymax=87.8, yticks=ERC_TICKS_10,
          pct=WRC_ERC_PCT, pct_labels=ERC_PCT_LABELS, fm=False, obs="1189 Wx Observations",
          stamp="FF+3.0.3 09/08/2003-12:45",
          series=dict(avg=WRC_ERC_AVG, max=WRC_ERC_MAX, min=WRC_ERC_MIN, y2002=WRC_ERC_2002,
                      y2003=WRC_ERC_2003, proj=WRC_ERC_PROJ)),
     dict(title="Wind River Basin/Casper Mtn PSA - 1000-hr Fuel Moisture", chart="SIG - WndRv/Cspr Mtn",
          years="1988 - 2003", ylabel=FM_LABEL, ylabel_size="16.5px", ymax=19.7, yticks=FM_TICKS_18,
          pct=WRC_FM_PCT, pct_labels=FM_PCT_LABELS, fm=True, obs="1189 Wx Observations",
          stamp="FF+3.0.3 09/08/2003-12:45",
          series=dict(avg=WRC_FM_AVG, max=WRC_FM_MAX, min=WRC_FM_MIN, y2002=WRC_FM_2002,
                      y2003=WRC_FM_2003, proj=WRC_FM_PROJ))],
]

children = []
for r, row in enumerate(panels):
    for c, cfg in enumerate(row):
        geo = GEO[r][c]
        children.append((make_deco(cfg, geo, TY[r][c], c), r, c))
        children.append((make_chart(cfg, geo), r, c))

layout = GridBox(children=children, spacing=0)

with open("out.html", "w") as f:
    f.write(file_html(layout, INLINE, title="SIG ERC and 1000-hr Fuel Moisture"))
